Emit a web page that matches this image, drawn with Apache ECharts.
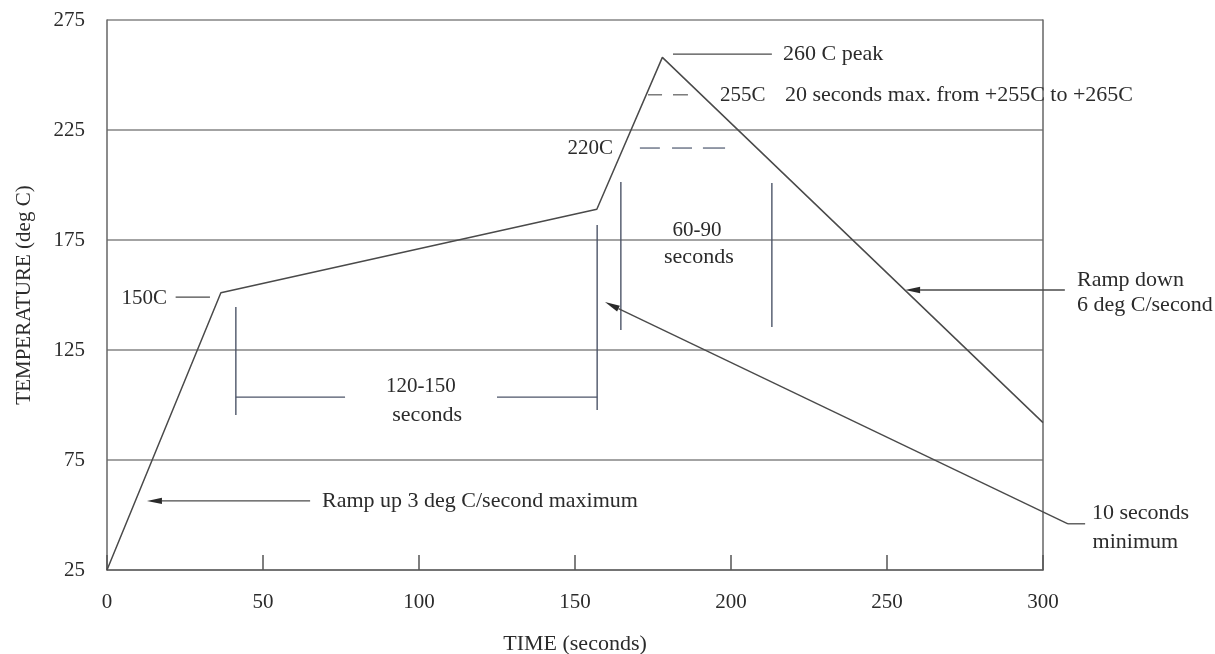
<!DOCTYPE html>
<html><head><meta charset="utf-8">
<script src="https://cdn.jsdelivr.net/npm/echarts@6/dist/echarts.min.js"></script>
<style>html,body{margin:0;padding:0;background:#fff}#c{width:1215px;height:654px}</style>
</head><body><div id="c"></div>
<script>
// axis ticks
const xTicks = [0, 50, 100, 150, 200, 250, 300];
const yTicks = [25, 75, 125, 175, 225, 275];

// reflow profile (time s, temperature deg C)
const profileTime = [0, 36.5, 157, 178, 300];
const profileTemp = [25, 151, 189, 258, 92];

// plain leader / dimension segments [x1, y1, x2, y2] in data units
const leaderSegs = [
  [22, 149, 33, 149],          // 150C leader
  [181.4, 259.5, 213.1, 259.5],// 260 C peak leader
  [313.5, 46, 308, 46]         // 10 seconds minimum leader (horizontal bit)
];
const dashSegs255 = [
  [173.4, 241, 177.9, 241],
  [181.4, 241, 186.2, 241]
];
const dashSegs220 = [
  [170.8, 216.8, 177.2, 216.8],
  [181.1, 216.8, 187.5, 216.8],
  [191.0, 216.8, 198.1, 216.8]
];
const dimSegs = [
  [41.3, 144.5, 41.3, 95.5],
  [157.1, 181.8, 157.1, 97.7],
  [164.7, 201.4, 164.7, 134.1],
  [213.1, 200.9, 213.1, 135.5],
  [41.3, 103.6, 76.3, 103.6],
  [125.0, 103.6, 157.1, 103.6]
];
// arrows [fromX, fromY, tipX, tipY]
const arrowSegs = [
  [65.1, 56.4, 12.8, 56.4],     // ramp up
  [307, 152.3, 255.8, 152.3],   // ramp down
  [308, 46, 159.6, 146.8]       // 10 seconds minimum
];

// text annotations
const labelText = ['150C', '260 C peak', '255C', '20 seconds max. from +255C to +265C', '220C',
  '60-90', 'seconds', '120-150', 'seconds', 'Ramp up 3 deg C/second maximum',
  'Ramp down', '6 deg C/second', '10 seconds', 'minimum'];
const labelX = [19.2, 216.7, 196.5, 217.3, 162.2, 189.1, 189.7, 100.6, 102.6, 68.9, 310.9, 310.9, 315.7, 315.9];
const labelY = [148.6, 259.5, 240.9, 240.9, 216.8, 179.1, 167.3, 108.2, 95.5, 56.4, 156.8, 145.5, 50.9, 37.7];
const labelAlign = ['right', 'left', 'left', 'left', 'right', 'center', 'center', 'center', 'center', 'left',
  'left', 'left', 'left', 'left'];
const labelSize = [21, 22, 21, 22, 21, 21, 22, 21, 22, 22, 22, 22, 22, 22];

const FONT = 'Liberation Serif';
const TXT = '#2b2b2b';
const LINE = '#4a4a4a';

function segSeries(data, color, width, dash) {
  return {
    type: 'custom', clip: false, silent: true, z: 5,
    encode: { x: [0, 2], y: [1, 3] },
    data: data,
    renderItem: function (params, api) {
      const p1 = api.coord([api.value(0), api.value(1)]);
      const p2 = api.coord([api.value(2), api.value(3)]);
      return { type: 'line', shape: { x1: p1[0], y1: p1[1], x2: p2[0], y2: p2[1] },
        style: { stroke: color, lineWidth: width, lineDash: dash || null } };
    }
  };
}

function arrowSeries(data) {
  return {
    type: 'custom', clip: false, silent: true, z: 5,
    encode: { x: [0, 2], y: [1, 3] },
    data: data,
    renderItem: function (params, api) {
      const p1 = api.coord([api.value(0), api.value(1)]);
      const p2 = api.coord([api.value(2), api.value(3)]);
      const dx = p2[0] - p1[0], dy = p2[1] - p1[1];
      const L = Math.sqrt(dx * dx + dy * dy);
      const ux = dx / L, uy = dy / L;
      const hl = 15, hw = 3.2;
      const bx = p2[0] - ux * hl, by = p2[1] - uy * hl;
      return { type: 'group', children: [
        { type: 'line', shape: { x1: p1[0], y1: p1[1], x2: bx, y2: by },
          style: { stroke: LINE, lineWidth: 1.4 } },
        { type: 'polygon', shape: { points: [[p2[0], p2[1]], [bx - uy * hw, by + ux * hw], [bx + uy * hw, by - ux * hw]] },
          style: { fill: '#2a2a2a' } }
      ] };
    }
  };
}

const chart = echarts.init(document.getElementById('c'), null, { renderer: 'canvas' });
chart.setOption({
  animation: false,
  backgroundColor: '#ffffff',
  grid: { left: 107, right: 172, top: 20, bottom: 84, containLabel: false, outerBoundsMode: 'none' },
  xAxis: {
    type: 'value', min: xTicks[0], max: xTicks[xTicks.length - 1], interval: 50,
    name: 'TIME (seconds)', nameLocation: 'middle', nameGap: 63,
    nameTextStyle: { fontFamily: FONT, fontSize: 22, color: TXT },
    axisLine: { show: true, lineStyle: { color: '#666', width: 1.5 } },
    axisTick: { show: true, inside: true, length: 15, lineStyle: { color: '#555', width: 1.5 } },
    axisLabel: { fontFamily: FONT, fontSize: 21, color: TXT, margin: 22 },
    splitLine: { show: false }
  },
  yAxis: [{
    type: 'value', min: yTicks[0], max: yTicks[yTicks.length - 1], interval: 50,
    name: 'TEMPERATURE (deg C)', nameLocation: 'middle', nameGap: 72,
    nameTextStyle: { fontFamily: FONT, fontSize: 21, color: TXT },
    axisLine: { show: true, lineStyle: { color: '#666', width: 1.5 } },
    axisTick: { show: false },
    axisLabel: { fontFamily: FONT, fontSize: 21, color: TXT, margin: 22 },
    splitLine: { show: true, lineStyle: { color: '#858585', width: 1.5 } }
  }, {
    type: 'value', position: 'right', min: yTicks[0], max: yTicks[yTicks.length - 1], interval: 50,
    axisLine: { show: true, lineStyle: { color: '#666', width: 1.5 } },
    axisTick: { show: false }, axisLabel: { show: false }, splitLine: { show: false }
  }],
  series: [
    {
      type: 'line', data: profileTime.map((t, i) => [t, profileTemp[i]]),
      symbol: 'none', z: 6, lineStyle: { color: LINE, width: 1.5 }
    },
    segSeries(leaderSegs, LINE, 1.3),
    segSeries(dashSegs255, '#666', 1.3),
    segSeries(dashSegs220, '#5a6478', 1.3),
    segSeries(dimSegs, '#4d5568', 1.4),
    arrowSeries(arrowSegs),
    {
      type: 'custom', clip: false, silent: true, z: 7,
      data: labelX.map((x, i) => [x, labelY[i]]),
      renderItem: function (params, api) {
        const p = api.coord([api.value(0), api.value(1)]);
        const i = params.dataIndex;
        return { type: 'text', x: p[0], y: p[1],
          style: { text: labelText[i], fontFamily: FONT, fontSize: labelSize[i], fill: TXT,
            align: labelAlign[i], verticalAlign: 'middle' } };
      }
    }
  ]
});
</script></body></html>
